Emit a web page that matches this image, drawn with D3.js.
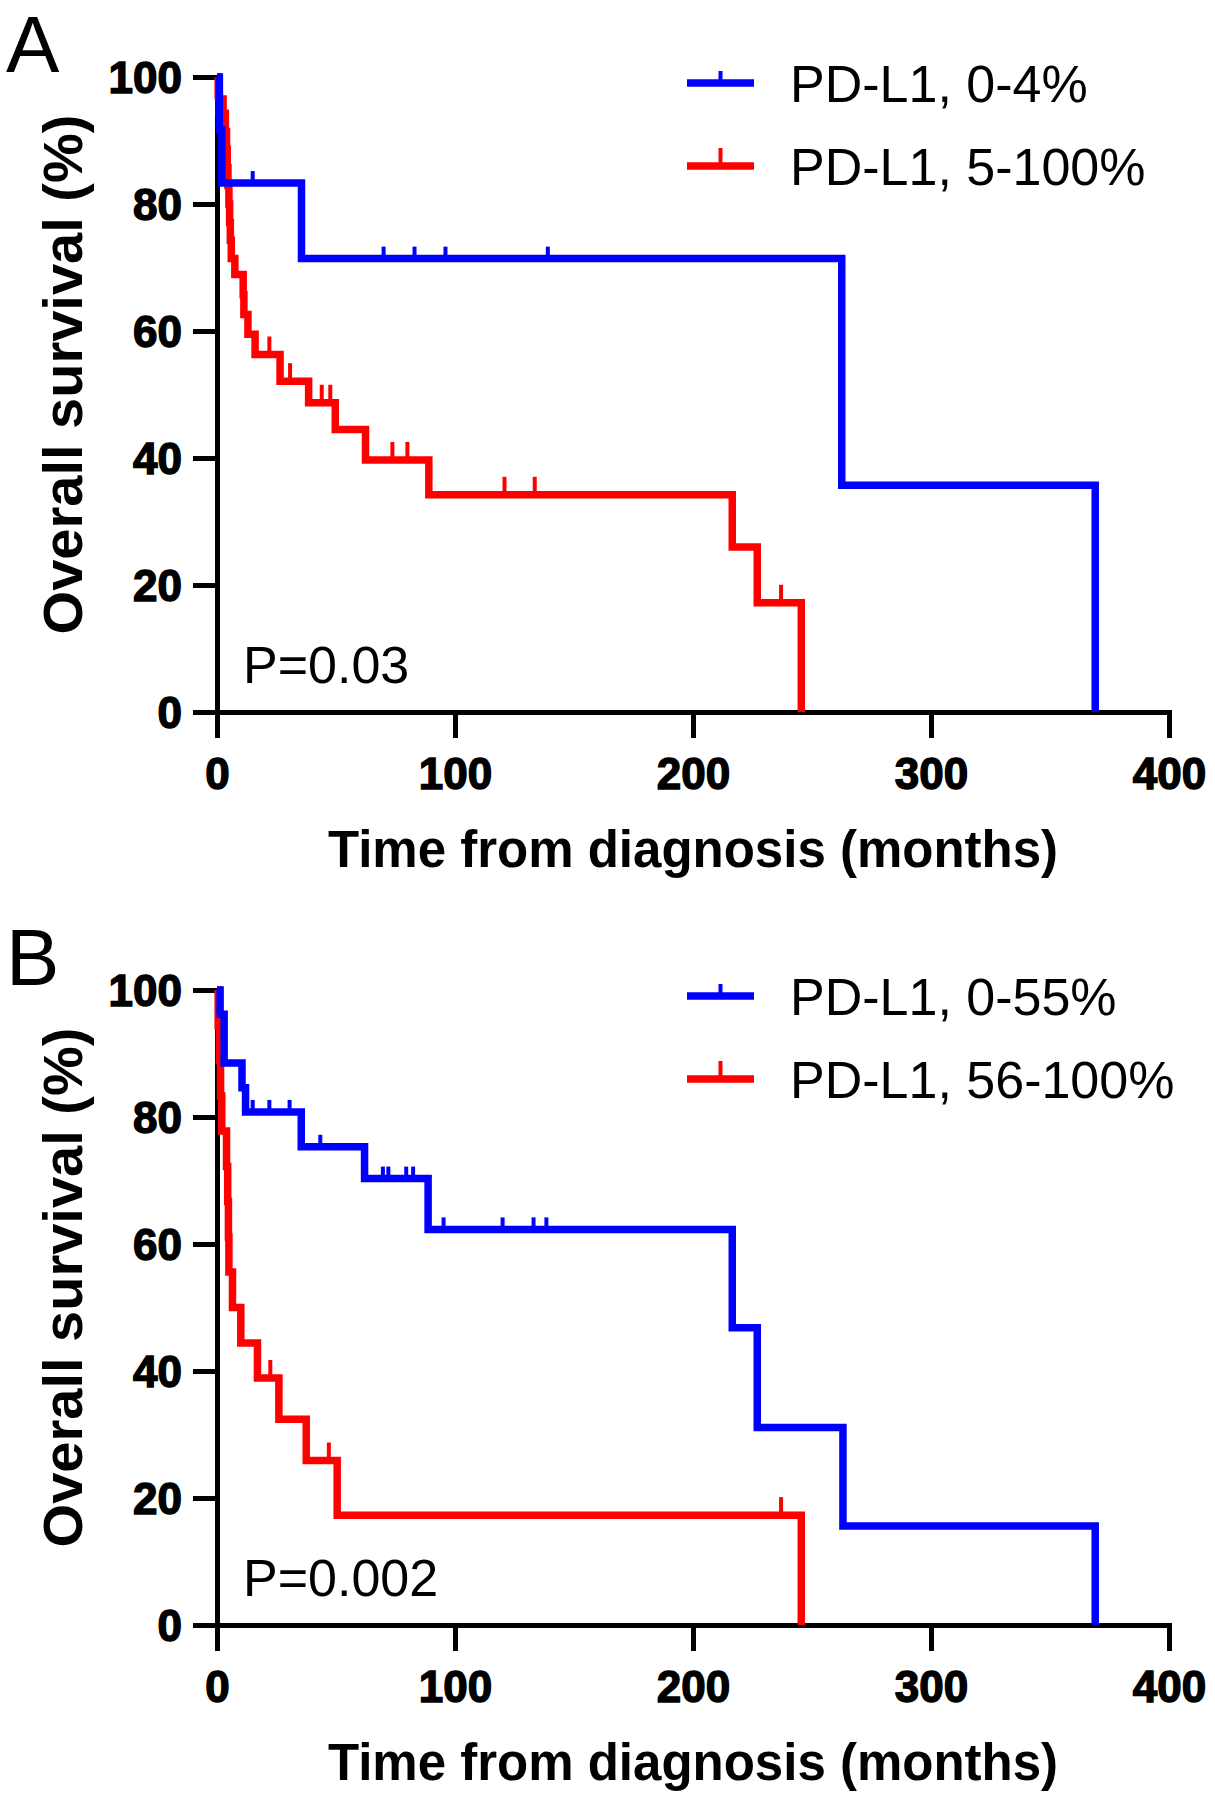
<!DOCTYPE html>
<html><head><meta charset="utf-8">
<script src="https://cdn.jsdelivr.net/npm/d3@7"></script>
<style>body{margin:0;background:#fff}</style>
</head><body>
<script>
// ---------- data ----------
const xTicks = [0, 100, 200, 300, 400];
const yTicks = [0, 20, 40, 60, 80, 100];
const xTitle = "Time from diagnosis (months)";
const yTitle = "Overall survival (%)";

// Panel A
const aLabels = ["PD-L1, 0-4%", "PD-L1, 5-100%"];
const aLowTimes  = [0, 1, 2, 35.5, 262.5, 369];
const aLowSurv   = [100, 91.7, 83.3, 71.4, 35.7, 0];
const aLowCensor = [15, 70, 83, 96, 139];
const aHighTimes = [0, 0.5, 1, 3.5, 4, 4.3, 4.6, 5, 5.3, 5.6, 6, 7.5, 11, 11.3, 13, 16, 26.5, 38.5, 49.7, 62.4, 89, 216.5, 227, 245.5];
const aHighSurv  = [100, 97.1, 94.3, 91.4, 88.6, 85.7, 82.9, 80.0, 77.1, 74.3, 71.4, 68.9, 65.7, 62.6, 59.5, 56.3, 52.1, 48.7, 44.5, 39.7, 34.2, 26.0, 17.2, 0];
const aHighCensor = [3.3, 22, 30.7, 44, 47.6, 73.7, 80, 120.8, 133.5, 237];
const aPValue = "P=0.03";

// Panel B
const bLabels = ["PD-L1, 0-55%", "PD-L1, 56-100%"];
const bLowTimes  = [0, 1.3, 3, 10.5, 12, 35.4, 62, 88.7, 216.5, 227, 263, 369];
const bLowSurv   = [100, 96.2, 88.5, 84.6, 80.8, 75.3, 70.3, 62.3, 46.8, 31.1, 15.6, 0];
const bLowCensor = [15, 22, 30.5, 43.4, 69.7, 72, 79.5, 82.4, 95.2, 120, 133, 138.4];
const bHighTimes = [0, 0.5, 1, 1.5, 2, 4, 4.5, 4.8, 5, 6.5, 10, 17, 26, 37.5, 50.5, 245.5];
const bHighSurv  = [100, 94.4, 88.9, 83.3, 77.8, 72.2, 66.7, 61.1, 55.6, 50.0, 44.4, 38.9, 32.4, 25.9, 17.3, 0];
const bHighCensor = [22.4, 47, 237];
const bPValue = "P=0.002";

const panelLetters = ["A", "B"];
const colors = ["#0000ff", "#ff0000"];

// ---------- drawing ----------
const W = 1215, H = 1800;
const svg = d3.select("body").append("svg").attr("width", W).attr("height", H)
  .style("background", "#fff");

const FONT = "'Liberation Sans', Arial, sans-serif";
const x = d3.scaleLinear().domain([0, 400]).range([217, 1169]);

function stepValue(times, surv, t) {
  let v = surv[0];
  for (let i = 0; i < times.length; i++) if (times[i] <= t) v = surv[i];
  return v;
}

function drawPanel(offsetY, letter, labels, series, pText) {
  const g = svg.append("g").attr("transform", `translate(0,${offsetY})`);
  const y = d3.scaleLinear().domain([0, 100]).range([712, 77]);

  // axes
  const yAxis = d3.axisLeft(y).tickValues(yTicks).tickSize(24).tickSizeOuter(0).tickPadding(11);
  const xAxis = d3.axisBottom(x).tickValues(xTicks).tickSize(26).tickSizeOuter(0).tickPadding(19);
  const ya = g.append("g").attr("transform", `translate(${x(0)},0)`).call(yAxis);
  const xa = g.append("g").attr("transform", `translate(0,${y(0)})`).call(xAxis);
  [ya, xa].forEach(a => {
    a.select(".domain").attr("stroke", "#000").attr("stroke-width", 5).attr("stroke-linecap", "square");
    a.selectAll(".tick line").attr("stroke", "#000").attr("stroke-width", 5);
    a.selectAll(".tick text")
      .attr("fill", "#000").attr("font-family", FONT).attr("font-weight", "bold")
      .attr("font-size", 44).attr("stroke", "#000").attr("stroke-width", 1.4);
  });
  ya.selectAll(".tick text").attr("dy", "0.36em");
  xa.selectAll(".tick text").attr("dy", "0.72em");

  // titles
  g.append("text").attr("x", (x(0) + x(400)) / 2).attr("y", 867)
    .attr("text-anchor", "middle").attr("font-family", FONT).attr("font-weight", "bold")
    .attr("font-size", 51).text(xTitle);
  g.append("text").attr("transform", `translate(82,${(y(0) + y(100)) / 2 - 20}) rotate(-90)`)
    .attr("text-anchor", "middle").attr("font-family", FONT).attr("font-weight", "bold")
    .attr("font-size", 56).text(yTitle);

  // panel letter
  g.append("text").attr("x", 6).attr("y", 72).attr("font-family", FONT)
    .attr("font-size", 80).text(letter);

  // curves (red first, blue on top)
  const line = d3.line().x(d => x(d[0])).y(d => y(d[1])).curve(d3.curveStepAfter);
  [1, 0].forEach(i => {
    const s = series[i];
    const pts = s.times.map((t, k) => [t, s.surv[k]]);
    g.append("path").attr("d", line(pts)).attr("fill", "none")
      .attr("stroke", colors[i]).attr("stroke-width", 7.5)
      .attr("stroke-linejoin", "miter").attr("stroke-linecap", "butt");
    const rise = i === 0 ? 12 : 18;
    g.selectAll(null).data(s.censor).enter().append("line")
      .attr("x1", t => x(t)).attr("x2", t => x(t))
      .attr("y1", t => y(stepValue(s.times, s.surv, t)))
      .attr("y2", t => y(stepValue(s.times, s.surv, t)) - rise)
      .attr("stroke", colors[i]).attr("stroke-width", 4);
  });

  // legend
  labels.forEach((lab, i) => {
    const ly = 83 + i * 83;
    g.append("line").attr("x1", 687).attr("x2", 754).attr("y1", ly).attr("y2", ly)
      .attr("stroke", colors[i]).attr("stroke-width", 7.5);
    g.append("line").attr("x1", 720.5).attr("x2", 720.5).attr("y1", ly).attr("y2", ly - (i === 0 ? 12 : 18))
      .attr("stroke", colors[i]).attr("stroke-width", 4);
    g.append("text").attr("x", 790).attr("y", ly).attr("dy", "0.36em")
      .attr("font-family", FONT).attr("font-size", 52).attr("fill", "#000").text(lab);
  });

  // p-value
  g.append("text").attr("x", 243).attr("y", 683).attr("font-family", FONT)
    .attr("font-size", 52).attr("fill", "#000").text(pText);
}

drawPanel(0, panelLetters[0], aLabels, [
  {times: aLowTimes, surv: aLowSurv, censor: aLowCensor},
  {times: aHighTimes, surv: aHighSurv, censor: aHighCensor}
], aPValue);

drawPanel(913, panelLetters[1], bLabels, [
  {times: bLowTimes, surv: bLowSurv, censor: bLowCensor},
  {times: bHighTimes, surv: bHighSurv, censor: bHighCensor}
], bPValue);
</script>
</body></html>
